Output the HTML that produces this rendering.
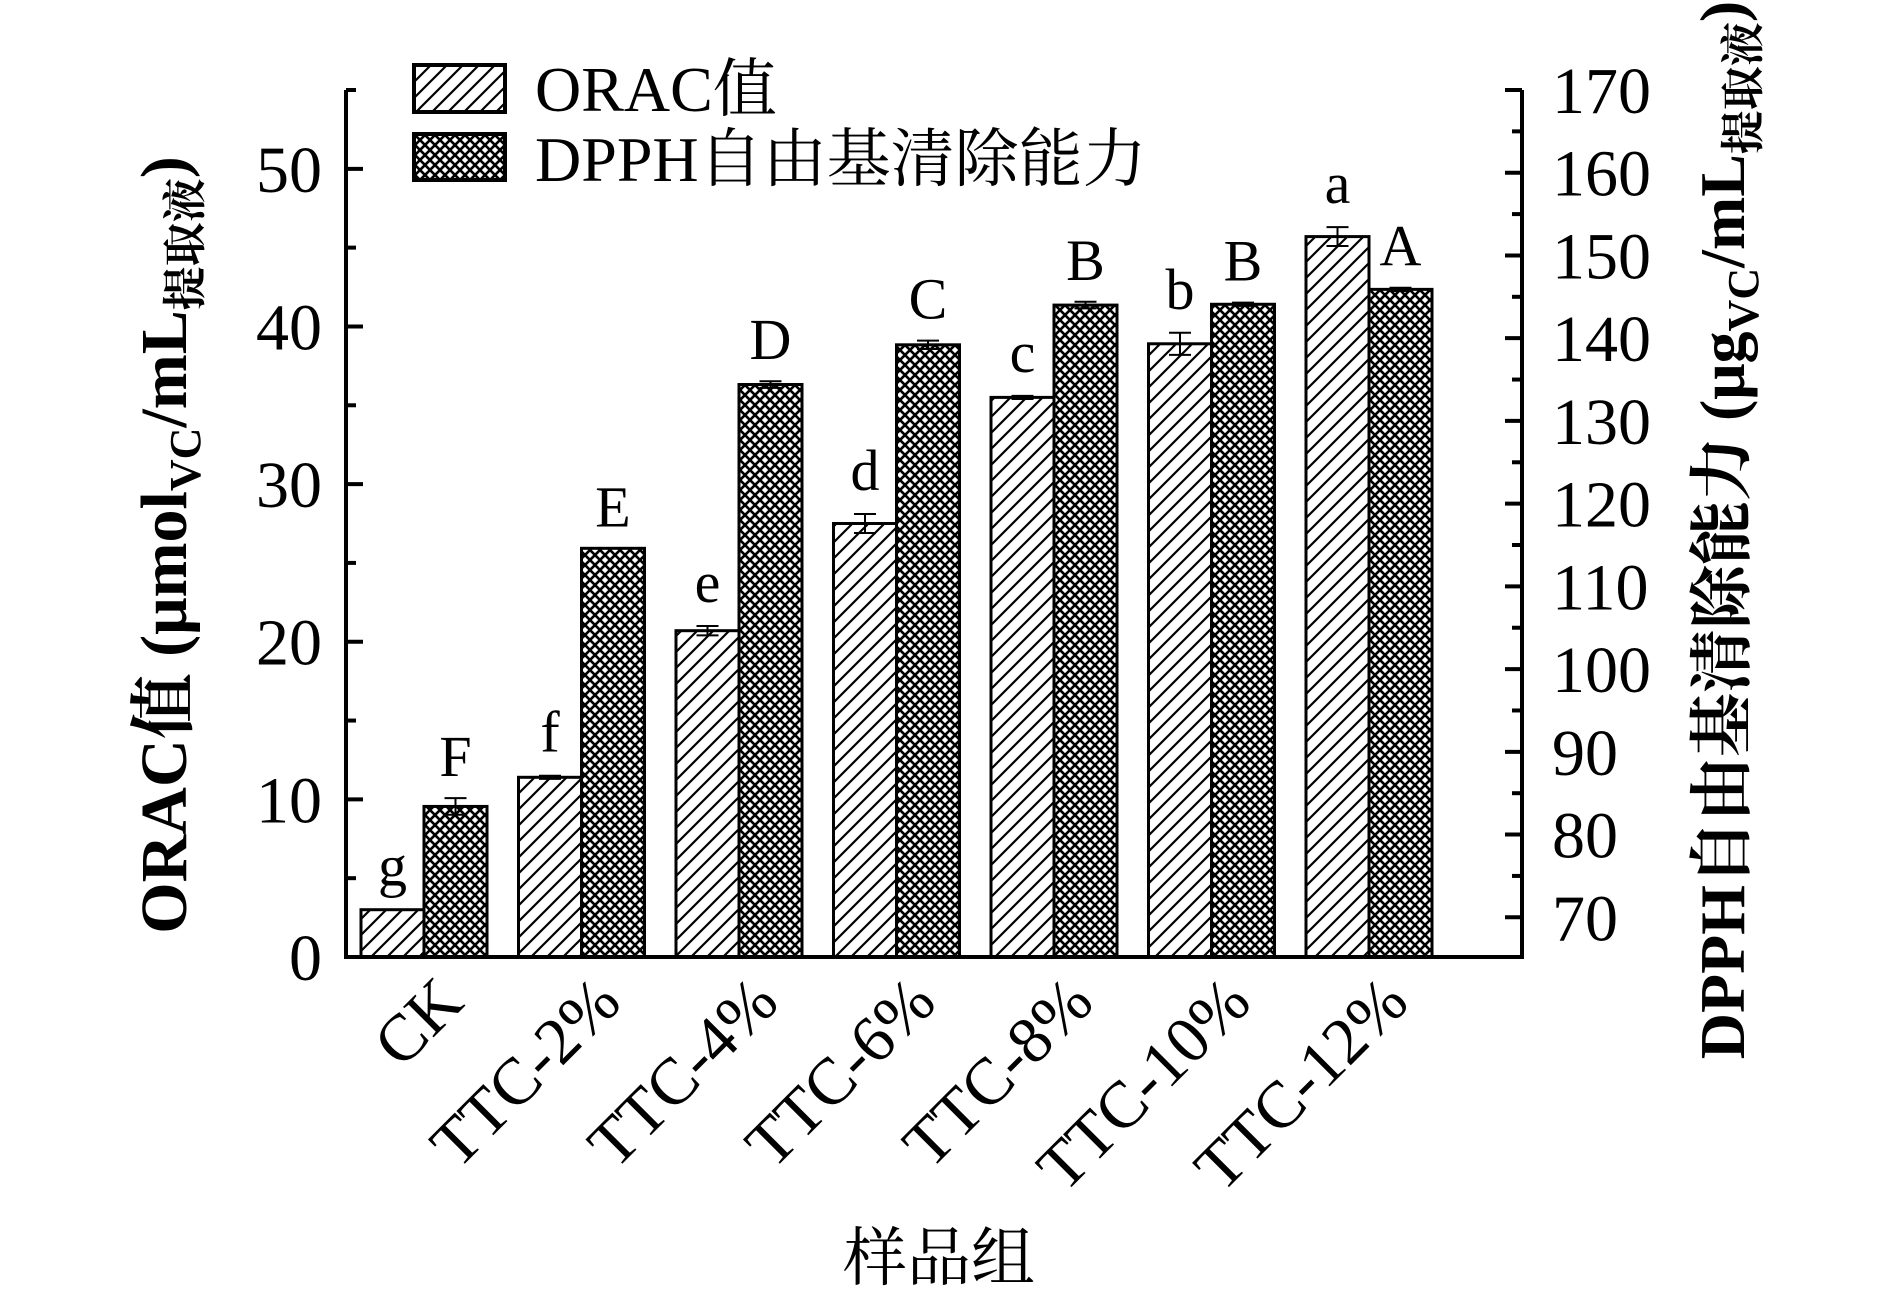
<!DOCTYPE html>
<html><head><meta charset="utf-8"><style>
html,body{margin:0;padding:0;background:#fff;}
svg{display:block;}
text{font-family:"Liberation Serif","Noto Serif CJK SC",serif;fill:#000;}
</style></head><body>
<svg id="chart" width="1890" height="1294" viewBox="0 0 1890 1294" xmlns="http://www.w3.org/2000/svg">
<defs>
<pattern id="hatch" patternUnits="userSpaceOnUse" width="16" height="16">
<rect width="16" height="16" fill="#fff"/>
<path d="M-4,4 L4,-4 M0,16 L16,0 M12,20 L20,12" stroke="#000" stroke-width="2.2"/>
</pattern>
<pattern id="cross" patternUnits="userSpaceOnUse" width="10" height="10">
<rect width="10" height="10" fill="#fff"/>
<path d="M0,0 L10,10 M10,0 L0,10" stroke="#000" stroke-width="2.6"/>
</pattern>
</defs>
<g id="plot"></g>
</svg>
<script>
const categories = ["CK","TTC-2%","TTC-4%","TTC-6%","TTC-8%","TTC-10%","TTC-12%"];
const oracValues = [3.0, 11.4, 20.7, 27.5, 35.5, 38.9, 45.7];
const oracErrors = [0.0, 0.1, 0.3, 0.6, 0.1, 0.7, 0.6];
const oracLetters = ["g","f","e","d","c","b","a"];
const dpphValues = [83.4, 114.6, 134.4, 139.2, 144.0, 144.1, 145.9];
const dpphErrors = [1.0, 0.0, 0.4, 0.5, 0.4, 0.2, 0.2];
const dpphLetters = ["F","E","D","C","B","B","A"];
const leftTicks = [0,10,20,30,40,50];
const rightTicks = [70,80,90,100,110,120,130,140,150,160,170];

const NS = "http://www.w3.org/2000/svg";
const g = document.getElementById('plot');
const X0 = 346, X1 = 1522, Y0 = 957, YT = 90;
const yL = v => Y0 - (v - 0) / 55 * (Y0 - YT);
const RMIN = 65.2, RMAX = 170;
const yR = v => Y0 - (v - RMIN) / (RMAX - RMIN) * (Y0 - YT);
const groupX = i => 361 + i * 157.5;
const BW = 63;

function el(tag, attrs, text) {
  const e = document.createElementNS(NS, tag);
  for (const k in attrs) e.setAttribute(k, attrs[k]);
  if (text !== undefined) e.textContent = text;
  g.appendChild(e);
  return e;
}

function errBar(cx, top, errPx) {
  if (errPx < 0.5) return;
  const l = el('path', {d:`M${cx},${top-errPx} L${cx},${top+errPx} M${cx-11},${top-errPx} L${cx+11},${top-errPx} M${cx-11},${top+errPx} L${cx+11},${top+errPx}`, stroke:'#000','stroke-width':2, fill:'none'});
  
  
}

categories.forEach((c, i) => {
  const x = groupX(i);
  const t1 = yL(oracValues[i]);
  const r1 = el('rect', {x:x, y:t1, width:BW, height:Y0 - t1, fill:'url(#hatch)', stroke:'#000','stroke-width':3});
  
  
  const e1 = yL(oracValues[i]) - yL(oracValues[i] + oracErrors[i]);
  errBar(x + BW/2, t1, e1);
  const l1 = el('text', {x:x + BW/2, y:t1 - Math.max(e1,0) - 24, 'font-size':58, 'text-anchor':'middle'}, oracLetters[i]);
  
  
  const t2 = yR(dpphValues[i]);
  const r2 = el('rect', {x:x + BW, y:t2, width:BW, height:Y0 - t2, fill:'url(#cross)', stroke:'#000','stroke-width':3});
  
  
  const e2 = yR(dpphValues[i]) - yR(dpphValues[i] + dpphErrors[i]);
  errBar(x + BW*1.5, t2, e2);
  const l2 = el('text', {x:x + BW*1.5, y:t2 - Math.max(e2,0) - 22, 'font-size':58, 'text-anchor':'middle'}, dpphLetters[i]);
  
  
  const cx = x + BW + 42, cy = 1005;
  const tl = el('text', {x:cx, y:cy, 'font-size':66, 'text-anchor':'end', transform:`rotate(-45 ${cx} ${cy})`}, c);
  
  
});

const ax = el('path', {d:`M${X0},${YT} L${X0},${Y0} L${X1},${Y0} L${X1},${YT}`, stroke:'#000','stroke-width':4, fill:'none'});



for (let v = 0; v <= 55; v += 5) {
  const y = yL(v), major = v % 10 === 0;
  el('line', {x1:X0, x2:X0 + (major ? 17 : 10), y1:y, y2:y, stroke:'#000','stroke-width':4});
}
leftTicks.forEach(v => {
  const t = el('text', {x:322, y:yL(v) + 23, 'font-size':66, 'text-anchor':'end'}, String(v));
  
  
});
for (let v = 70; v <= 170; v += 5) {
  const y = yR(v), major = v % 10 === 0;
  el('line', {x1:X1, x2:X1 - (major ? 17 : 10), y1:y, y2:y, stroke:'#000','stroke-width':4});
}
rightTicks.forEach(v => {
  const t = el('text', {x:1552, y:yR(v) + 23, 'font-size':66, 'text-anchor':'start'}, String(v));
  
  
});
</script>
<svg width="1890" height="1294" style="position:absolute;left:0;top:0" xmlns="http://www.w3.org/2000/svg">
<g>
<rect x="414" y="65" width="91" height="47" fill="url(#hatch)" stroke="#000" stroke-width="4"/>
<text x="535" y="111" font-size="64" style="font-family:'Liberation Serif','Noto Serif CJK SC',serif">ORAC值</text>
<rect x="414" y="134" width="91" height="46" fill="url(#cross)" stroke="#000" stroke-width="4"/>
<text x="535" y="181" font-size="64" style="font-family:'Liberation Serif','Noto Serif CJK SC',serif">DPPH自由基清除能力</text>
</g>
<text transform="translate(186 545) rotate(-90)" text-anchor="middle" font-size="66" font-weight="bold" style="font-family:'Liberation Serif','Noto Serif CJK SC',serif">ORAC值 (μmol<tspan font-size="44" dy="14">VC</tspan><tspan dy="-14">/mL</tspan><tspan font-size="44" dy="14">提取液</tspan><tspan dy="-14">)</tspan></text>
<text transform="translate(1744 530) rotate(-90)" text-anchor="middle" font-size="64" font-weight="bold" style="font-family:'Liberation Serif','Noto Serif CJK SC',serif">DPPH自由基清除能力 (μg<tspan font-size="44" dy="14">VC</tspan><tspan dy="-14">/mL</tspan><tspan font-size="44" dy="14">提取液</tspan><tspan dy="-14">)</tspan></text>
<text x="939" y="1280" text-anchor="middle" font-size="64" style="font-family:'Liberation Serif','Noto Serif CJK SC',serif">样品组</text>
</svg>
</body></html>
